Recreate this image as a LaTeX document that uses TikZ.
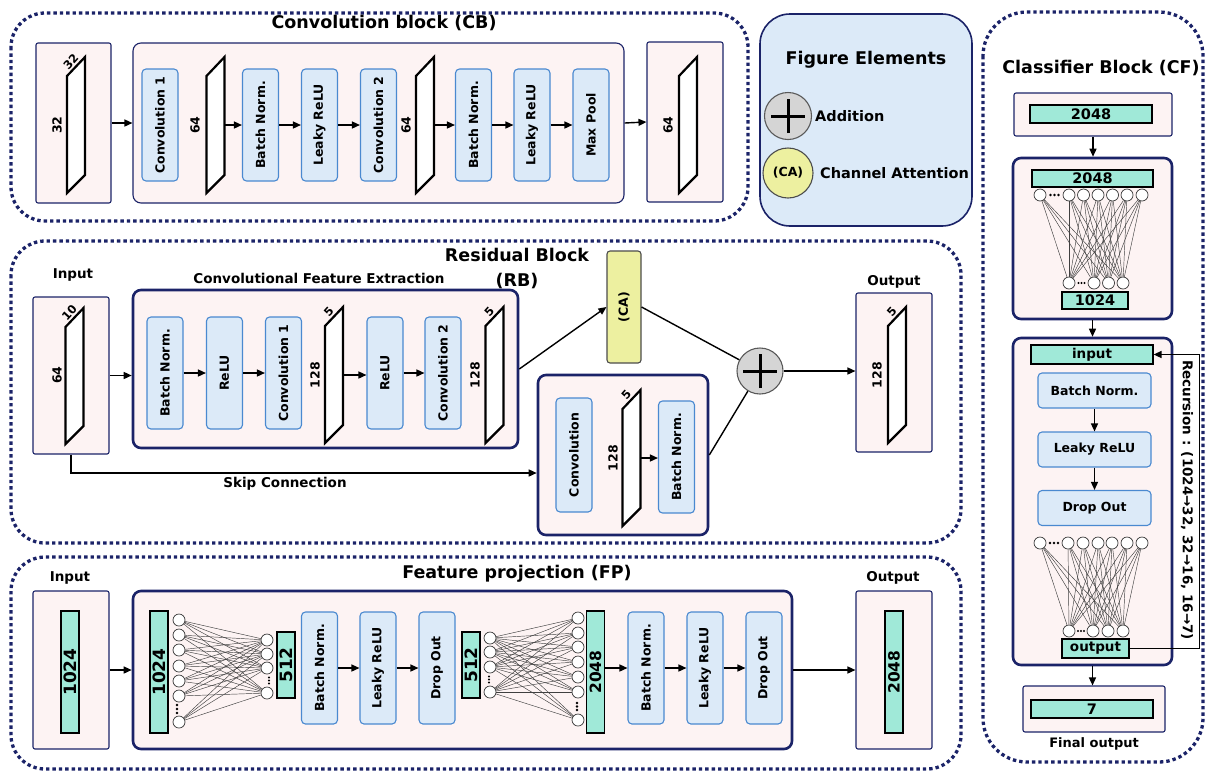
\documentclass[tikz,border=0pt]{standalone}
\usepackage{fontspec}
\usepackage{graphicx}
\setmainfont{DejaVu Sans}
\usetikzlibrary{arrows.meta,calc}
\definecolor{navy}{HTML}{1B2368}
\definecolor{pinkbg}{HTML}{FDF3F3}
\definecolor{bluebg}{HTML}{DCEAF8}
\definecolor{blueln}{HTML}{4A89D0}
\definecolor{mint}{HTML}{A0E9D8}
\definecolor{yel}{HTML}{EDF0A0}
\definecolor{grayc}{HTML}{D5D5D5}
\newcommand{\fsz}[1]{\fontsize{#1}{#1}\selectfont}
\newcommand{\rt}[1]{\rotatebox{90}{#1}}
\newcommand{\mypara}[3]{%
  \node[inner sep=0,minimum width=18pt,minimum height=136pt] (#1) at (#2,#3) {};
  \draw[parast] (#2-9,#3-49) -- (#2+9,#3-68) -- (#2+9,#3+50) -- (#2-9,#3+68) -- cycle;}
\newcommand{\toplab}[4]{\node[font=\bfseries\fsz{11.5},rotate=48,anchor=south,inner sep=2.5pt] (#1) at (#2,#3-58.5) {#4};}
\begin{document}
\begin{tikzpicture}[x=1pt,y=-1pt,
 dotbox/.style={draw=navy,line width=3.3pt,dash pattern=on 3.4pt off 3pt,rounded corners=34pt},
 pbox/.style={draw=navy,line width=1.1pt,fill=pinkbg,inner sep=0,rounded corners=2pt},
 tbox/.style={draw=navy,line width=2.6pt,fill=pinkbg,rounded corners=8pt,inner sep=0},
 lay/.style={draw=blueln,line width=1.1pt,fill=bluebg,rounded corners=4pt,inner sep=0,font=\bfseries\fsz{12.5}},
 vl/.style={lay,minimum width=36pt,minimum height=112pt},
 hl/.style={lay,minimum width=113pt,minimum height=35pt},
 mbar/.style={draw=black,line width=1.2pt,fill=mint,inner sep=0,font=\bfseries\fsz{14.5}},
 neuron/.style={circle,draw=black!80,line width=0.7pt,fill=white,minimum size=12pt,inner sep=0},
 wire/.style={black!75,line width=0.45pt},
 arr/.style={-{Triangle[length=8pt,width=7pt]},line width=1.4pt},
 lbl/.style={font=\bfseries\fsz{13.5},inner sep=0},
 ttl/.style={font=\bfseries\fsz{17.5},inner sep=0},
 dimlab/.style={font=\bfseries\fsz{12.5},inner sep=0},
 parast/.style={draw=black,line width=2.2pt,fill=white,line join=miter},
 addc/.style={circle,draw=black!65,line width=1.1pt,fill=grayc,minimum size=46pt,inner sep=0,
   path picture={\draw[line width=3pt,black] ([xshift=-17pt]path picture bounding box.center) -- ([xshift=17pt]path picture bounding box.center) ([yshift=-17pt]path picture bounding box.center) -- ([yshift=17pt]path picture bounding box.center);}},
]
\useasboundingbox (0,0) rectangle (1207,772);
% dotted frames
\draw[dotbox] (11,13) rectangle (748,221);
\draw[dotbox] (11,241) rectangle (961,543);
\draw[dotbox] (11,557) rectangle (961,769);
\draw[dotbox,rounded corners=44pt] (983,12) rectangle (1203,762);

% ===== Convolution block =====
\node[ttl] (cbt) at (384,23) {Convolution block (CB)};
\node[pbox,minimum width=75pt,minimum height=160pt] (cbin) at (73.5,123) {};
\mypara{pa}{76}{125}
\node[dimlab] (pal) at (57,125) {\rt{32}};
\toplab{pat}{76}{125}{32}
\node[pbox,rounded corners=8pt,minimum width=491pt,minimum height=160pt] (cbm) at (378.5,123) {};
\node[vl] (c1) at (160,125) {\rt{Convolution 1}};
\node[dimlab] (pbl) at (195,125) {\rt{64}};
\mypara{pb}{215.5}{125}
\node[vl] (bn1) at (260.5,125) {\rt{Batch Norm.}};
\node[vl] (lr1) at (319.5,125) {\rt{Leaky ReLU}};
\node[vl] (c2) at (378.5,125) {\rt{Convolution 2}};
\node[dimlab] (pcl) at (406,125) {\rt{64}};
\mypara{pc}{425}{125}
\node[vl] (bn2) at (473.5,125) {\rt{Batch Norm.}};
\node[vl] (lr2) at (532,125) {\rt{Leaky ReLU}};
\node[vl] (mp) at (591,125) {\rt{Max Pool}};
\node[pbox,minimum width=76pt,minimum height=160pt] (cbo) at (685,122) {};
\node[dimlab] (pdl) at (668,125) {\rt{64}};
\mypara{pd}{688}{125}
\draw[arr] (cbin.east) -- (cbm.west);
\draw[arr] (pb.east) -- (bn1.west);
\draw[arr] (bn1.east) -- (lr1.west);
\draw[arr] (lr1.east) -- (c2.west);
\draw[arr] (pc.east) -- (bn2.west);
\draw[arr] (bn2.east) -- (lr2.west);
\draw[arr] (lr2.east) -- (mp.west);
\draw[arr] (cbm.east) -- (cbo.west);

% ===== Legend =====
\node[draw=navy,line width=1.6pt,fill=bluebg,rounded corners=30pt,minimum width=212pt,minimum height=212pt,inner sep=0] (leg) at (866,120) {};
\node[ttl] (legt) at (866,60) {Figure Elements};
\node[addc,minimum size=47pt] (legadd) at (788,116) {};
\node[font=\bfseries\fsz{14.5},anchor=west,inner sep=0] (legaddl) at (815,116) {Addition};
\node[circle,draw=black!70,line width=1.1pt,fill=yel,minimum size=50pt,inner sep=0,font=\bfseries\fsz{12.5}] (legca) at (788,173) {(CA)};
\node[font=\bfseries\fsz{14.5},anchor=west,inner sep=0] (legcal) at (820,173) {Channel Attention};

% ===== Residual block =====
\node[align=center,inner sep=0,font=\bfseries\fontsize{17.5}{25}\selectfont] (rbt) at (517,268) {Residual Block\\(RB)};
\node[lbl] (rbinl) at (73,275) {Input};
\node[pbox,minimum width=76pt,minimum height=157pt] (rbin) at (71,375.5) {};
\node[dimlab] (pel) at (57,375) {\rt{64}};
\mypara{pe}{74.5}{376}
\toplab{pet}{74.5}{376}{10}
\node[tbox,minimum width=385pt,minimum height=158pt] (cfe) at (325.5,369) {};
\node[lbl] (cfel) at (319,278) {Convolutional Feature Extraction};
\node[vl] (bnA) at (165,373) {\rt{Batch Norm.}};
\node[vl] (reA) at (224.5,373) {\rt{ReLU}};
\node[vl] (cvA) at (283.5,373) {\rt{Convolution 1}};
\node[dimlab] (pfl) at (315,375) {\rt{128}};
\mypara{pf}{334}{375}
\toplab{pft}{334}{375}{5}
\node[vl] (reB) at (385,373) {\rt{ReLU}};
\node[vl] (cvB) at (443,373) {\rt{Convolution 2}};
\node[dimlab] (pgl) at (475,375) {\rt{128}};
\mypara{pg}{494.5}{375}
\toplab{pgt}{494.5}{375}{5}
\node[draw=black!70,line width=1.1pt,fill=yel,rounded corners=3pt,minimum width=34pt,minimum height=112pt,inner sep=0,font=\bfseries\fsz{12.5}] (ca) at (624,307) {\rt{(CA)}};
\node[addc] (add) at (760,371) {};
\node[lbl] (rbol) at (894,282) {Output};
\node[pbox,minimum width=76pt,minimum height=159pt] (rbo) at (894,372.5) {};
\node[dimlab] (phl) at (877,375) {\rt{128}};
\mypara{ph}{897}{375}
\toplab{pht}{897}{375}{5}
\node[tbox,minimum width=170pt,minimum height=160pt] (sk) at (623,455) {};
\node[vl,minimum height=114pt] (cvC) at (574,455) {\rt{Convolution}};
\node[dimlab] (pil) at (613,458) {\rt{128}};
\mypara{pi}{631.5}{458}
\toplab{pit}{631.5}{458}{5}
\node[vl] (bnC) at (676.5,457) {\rt{Batch Norm.}};
\draw[arr] (rbin.east) -- (rbin.east -| cfe.west);
\draw[arr] (bnA.east) -- (reA.west);
\draw[arr] (reA.east) -- (cvA.west);
\draw[arr] (pf.east) -- (pf.east -| reB.west);
\draw[arr] (reB.east) -- (cvB.west);
\draw[arr] (cfe.east) -- (ca.west);
\draw[line width=1.4pt] (ca.east) -- (add);
\draw[line width=1.4pt] (sk.east) -- (add);
\draw[arr] (add) -- (add -| rbo.west);
\draw[arr] (pi.east) -- (pi.east -| bnC.west);
\draw[arr] (rbin.south) |- ($(sk.west)+(0,18)$);
\node[lbl] (skl) at (285,484) {Skip Connection};

% ===== Feature projection =====
\node[ttl] (fpt) at (517,574) {Feature projection (FP)};
\node[lbl] (fpinl) at (70,578) {Input};
\node[lbl] (fpol) at (893,578) {Output};
\node[pbox,minimum width=76pt,minimum height=158pt] (fpin) at (71,670) {};
\node[mbar,minimum width=18pt,minimum height=122pt,font=\bfseries\fsz{17}] (fb0) at (70,672) {\rt{1024}};
\node[tbox,minimum width=659pt,minimum height=158pt] (fpm) at (462.5,670) {};
\node[mbar,minimum width=18pt,minimum height=122pt,font=\bfseries\fsz{17}] (fb1) at (159,672) {\rt{1024}};
\foreach \y [count=\i] in {620,635,650,666,681,696,722} \node[neuron] (a\i) at (179,\y) {};
\foreach \y [count=\j] in {640,654,668,693} \node[neuron] (b\j) at (267,\y) {};
\foreach \i in {1,...,7} \foreach \j in {1,...,4} \draw[wire] (a\i) -- (b\j);
\foreach \y in {705,709,713} \fill (177,\y) circle (1.3pt);
\foreach \y in {677.5,680.5,683.5} \fill (269,\y) circle (1.2pt);
\node[mbar,minimum width=18pt,minimum height=66pt,font=\bfseries\fsz{17}] (fb2) at (286,665) {\rt{512}};
\node[vl] (bnF1) at (319.5,668) {\rt{Batch Norm.}};
\node[vl] (lrF1) at (378,668) {\rt{Leaky ReLU}};
\node[vl] (doF1) at (437,668) {\rt{Drop Out}};
\node[mbar,minimum width=18pt,minimum height=66pt,font=\bfseries\fsz{17}] (fb3) at (471,665) {\rt{512}};
\foreach \y [count=\i] in {638,652,667,692} \node[neuron] (c\i) at (490,\y) {};
\foreach \y [count=\j] in {618,633,647,662,677,692,720} \node[neuron] (d\j) at (578,\y) {};
\foreach \i in {1,...,4} \foreach \j in {1,...,7} \draw[wire] (c\i) -- (d\j);
\foreach \y in {676.5,679.5,682.5} \fill (489,\y) circle (1.2pt);
\foreach \y in {703,706.5,710} \fill (577,\y) circle (1.3pt);
\node[mbar,minimum width=18pt,minimum height=122pt,font=\bfseries\fsz{15.5}] (fb4) at (595.5,672) {\rt{2048}};
\node[vl] (bnF2) at (646,668) {\rt{Batch Norm.}};
\node[vl] (lrF2) at (705,668) {\rt{Leaky ReLU}};
\node[vl] (doF2) at (764,668) {\rt{Drop Out}};
\node[pbox,minimum width=76pt,minimum height=158pt] (fpo) at (894,670) {};
\node[mbar,minimum width=18pt,minimum height=122pt,font=\bfseries\fsz{15.5}] (fb5) at (894,672) {\rt{2048}};
\draw[arr] (fpin.east) -- (fpm.west);
\draw[arr] (bnF1.east) -- (lrF1.west);
\draw[arr] (lrF1.east) -- (doF1.west);
\draw[arr] (bnF2.west -| fb4.east) -- (bnF2.west);
\draw[arr] (bnF2.east) -- (lrF2.west);
\draw[arr] (lrF2.east) -- (doF2.west);
\draw[arr] (fpm.east) -- (fpo.west);

% ===== Classifier block =====
\node[font=\bfseries\fsz{17.5},inner sep=0] (cft) at (1101,68) {Classifier Block (CF)};
\node[pbox,minimum width=158pt,minimum height=43pt] (cfin) at (1093,114.5) {};
\node[mbar,minimum width=122pt,minimum height=18pt] (cb0) at (1091,114) {2048};
\node[tbox,minimum width=159pt,minimum height=161pt] (d1) at (1092.5,238.5) {};
\node[mbar,minimum width=121pt,minimum height=17pt] (cb1) at (1092.5,178.5) {2048};
\foreach \x [count=\i] in {1040,1069,1083.5,1098,1112.5,1127,1142} \node[neuron] (t\i) at (\x,195) {};
\foreach \x [count=\j] in {1069,1094,1108.5,1123} \node[neuron] (u\j) at (\x,283) {};
\foreach \i in {1,...,7} \foreach \j in {1,...,4} \draw[wire] (t\i) -- (u\j);
\foreach \x in {1050.5,1054.5,1058.5} \fill (\x,195) circle (1.3pt);
\foreach \x in {1078.5,1081.5,1084.5} \fill (\x,283) circle (1.2pt);
\node[mbar,minimum width=66pt,minimum height=17pt] (cb2) at (1095,300.5) {1024};
\node[tbox,minimum width=159pt,minimum height=327pt] (rc) at (1092.5,501.5) {};
\node[mbar,minimum width=122pt,minimum height=19pt,font=\bfseries\fsz{13.5}] (inb) at (1092,354.5) {input};
\node[hl] (cbn) at (1094.5,390.5) {Batch Norm.};
\node[hl] (clr) at (1094.5,449.5) {Leaky ReLU};
\node[hl] (cdo) at (1094.5,508) {Drop Out};
\foreach \x [count=\i] in {1040,1068,1083,1098,1112,1127,1142} \node[neuron] (v\i) at (\x,543) {};
\foreach \x [count=\j] in {1069,1093,1108,1123} \node[neuron] (w\j) at (\x,631) {};
\foreach \i in {1,...,7} \foreach \j in {1,...,4} \draw[wire] (v\i) -- (w\j);
\foreach \x in {1050,1054,1058} \fill (\x,543) circle (1.3pt);
\foreach \x in {1078,1081,1084} \fill (\x,631) circle (1.2pt);
\node[mbar,minimum width=67pt,minimum height=19pt,font=\bfseries\fsz{13.5}] (outb) at (1095.5,648.5) {output};
\node[pbox,minimum width=142pt,minimum height=46pt] (fin) at (1094,709) {};
\node[mbar,minimum width=122pt,minimum height=18pt] (cb7) at (1092,709) {7};
\node[font=\bfseries\fsz{13},inner sep=0] (finl) at (1094,744) {Final output};
\draw[arr] (cfin.south) -- (cfin.south |- d1.north);
\draw[arr] (d1.south) -- (d1.south |- rc.north);
\draw[arr] (cbn.south) -- (clr.north);
\draw[arr] (clr.south) -- (cdo.north);
\draw[arr] (rc.south) -- (rc.south |- fin.north);
\draw[arr] (outb.east) -- ++(70,0) coordinate (rcor) |- (inb.east);
\node[lbl,rotate=-90] (rtxt) at (1187,500) {Recursion : (1024→32, 32→16, 16→7)};
\end{tikzpicture}
\end{document}
